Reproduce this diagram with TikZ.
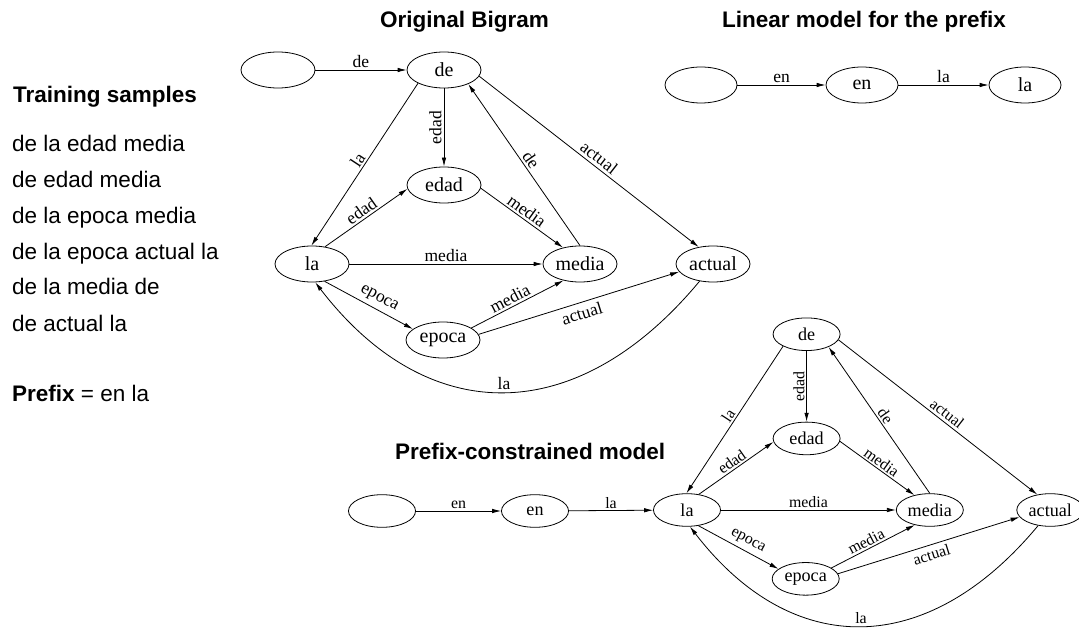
\documentclass[tikz,border=0pt]{standalone}
\usepackage{fontspec}
\setmainfont{Liberation Serif}
\setsansfont{Liberation Sans}
\usetikzlibrary{shapes.geometric,arrows.meta}

\tikzset{
  state/.style={ellipse, draw, line width=0.8pt, minimum width=74pt, minimum height=36pt,
                inner sep=0pt, font=\fontsize{20}{20}\selectfont},
  edge/.style={line width=0.8pt, -{Latex[length=9pt,width=4.5pt]}},
  lbl/.style={font=\fontsize{17.5}{17.5}\selectfont, inner sep=2pt},
  title/.style={anchor=base west, inner sep=0pt, font=\sffamily\bfseries\fontsize{22.5}{27}\selectfont},
  sample/.style={anchor=base west, inner sep=0pt, font=\sffamily\fontsize{22.5}{27}\selectfont},
  bigram/.pic={
    \node[state] (-la)     at (0,0)      {la};
    \node[state] (-de)     at (132,-194) {de};
    \node[state] (-edad)   at (132,-79)  {edad};
    \node[state] (-media)  at (268,0)    {media};
    \node[state] (-epoca)  at (131,76)   {epoca};
    \node[state] (-actual) at (401,0)    {actual};
    \draw[edge] (-de.207) -- node[lbl, pos=0.5, sloped, above] {la} (-la.92);
    \draw[edge] (-de) -- node[lbl, pos=0.5, rotate=90, anchor=south] {edad} (-edad);
    \draw[edge] (-la.53) -- node[lbl, pos=0.5, sloped, above] {edad} (-edad.186);
    \draw[edge] (-edad.355) -- node[lbl, pos=0.5, sloped, above] {media} (-media.136);
    \draw[edge] (-la) -- node[lbl, pos=0.5, above] {media} (-media);
    \draw[edge] (-la.306) -- node[lbl, pos=0.56, sloped, above=2pt] {epoca} (-epoca.160);
    \draw[edge] (-epoca.23) -- node[lbl, pos=0.46, sloped, above] {media} (-media.225);
    \draw[edge] (-epoca.9) -- node[lbl, pos=0.5, sloped, below=2pt] {actual} (-actual.193);
    \draw[edge] (-media.90) -- node[lbl, pos=0.5, sloped, above] {de} (-de.330);
    \draw[edge] (-de.350) -- node[lbl, pos=0.52, sloped, above=1pt] {actual} (-actual.130);
    \draw[edge] (-actual.232) .. controls +(-122,147) and +(113,147) ..
      node[lbl, above, pos=0.5] {la} (-la.280);
  }
}

\begin{document}
\begin{tikzpicture}[x=1pt, y=-1pt]
\useasboundingbox (0,0) rectangle (1079,628);

% left column: the training corpus and the prefix
\node[title]  (ttrain) at (13,103) {Training samples};
\node[sample] (s1) at (12,152) {de la edad media};
\node[sample] (s2) at (12,188) {de edad media};
\node[sample] (s3) at (12,224) {de la epoca media};
\node[sample] (s4) at (12,260) {de la epoca actual la};
\node[sample] (s5) at (12,295) {de la media de};
\node[sample] (s6) at (12,331) {de actual la};
\node[sample] (spref) at (12,401) {\textbf{Prefix} = en la};

% original bigram graph
\node[title] (tbig) at (380,28) {Original Bigram};
\node[state] (A-start) at (278,70) {};
\pic (A) at (312,264) {bigram};
\draw[edge] (A-start) -- node[lbl, above] {de} (A-de);

% linear model of the prefix
\node[title] (tlin) at (722,28) {Linear model for the prefix};
\node[state, minimum width=72pt] (T-start) at (701,85) {};
\node[state, minimum width=72pt] (T-en) at (862,85) {en};
\node[state, minimum width=72pt] (T-la) at (1025,85) {la};
\draw[edge] (T-start) -- node[lbl, above] {en} (T-en);
\draw[edge] (T-en) -- node[lbl, above] {la} (T-la);

% prefix-constrained model
\node[title] (tpre) at (395,459) {Prefix-constrained model};
\pic[scale=0.906, transform shape] (B) at (687,510) {bigram};
\node[state, scale=0.906] (B-start) at (382,511) {};
\node[state, scale=0.906] (B-en) at (535,511) {en};
\draw[edge] (B-start) -- node[lbl, above, scale=0.906] {en} (B-en);
\draw[edge] (B-en) -- node[lbl, above, scale=0.906] {la} (B-la);
\end{tikzpicture}
\end{document}
